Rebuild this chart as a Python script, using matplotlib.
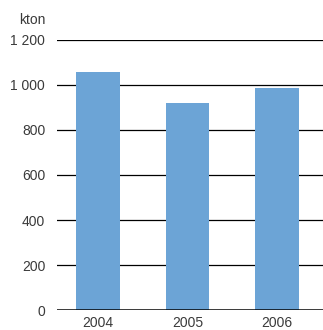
import matplotlib.pyplot as plt

years = ['2004', '2005', '2006']
values = [1058, 920, 987]
yticks = [0, 200, 400, 600, 800, 1000, 1200]
ytick_labels = ['0', '200', '400', '600', '800', '1 000', '1 200']

plt.rcParams['font.family'] = ['Liberation Sans', 'DejaVu Sans']

fig = plt.figure(figsize=(3.23, 3.30), dpi=100)
ax = fig.add_axes([0.1765, 0.0606, 0.8235, 0.8182])

# gridlines behind the bars
for y in yticks[1:]:
    ax.axhline(y, color='black', linewidth=0.9, zorder=1)
ax.axhline(0, color='black', linewidth=1.8, zorder=3)

x = range(len(years))
ax.bar(x, values, width=0.49, color='#6ca4d6', zorder=2)

ax.set_xlim(-0.458, 2.514)
ax.set_ylim(0, 1200)
ax.set_yticks(yticks)
ax.set_yticklabels(ytick_labels)
ax.set_xticks(list(x))
ax.set_xticklabels(years)
ax.tick_params(axis='both', length=0, labelsize=10, colors='#3a3a3a')
ax.tick_params(axis='y', pad=8.5)
ax.tick_params(axis='x', pad=4)
for s in ax.spines.values():
    s.set_visible(False)

fig.text(46 / 323, 1 - 20 / 330, 'kton', ha='right', va='center',
         fontsize=10, color='#3a3a3a')

fig.savefig('out.png', dpi=100)
